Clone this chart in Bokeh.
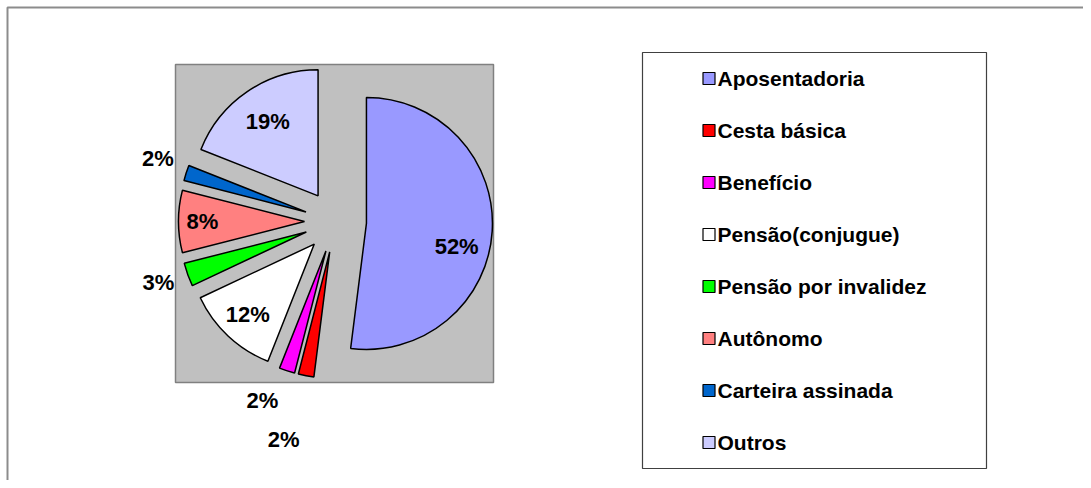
import numpy as np
from bokeh.plotting import figure
from bokeh.models import Range1d, ColumnDataSource
from bokeh.core.properties import value
from bokeh.embed import file_html
from bokeh.resources import INLINE

# ---- data ----
categories = ["Aposentadoria", "Cesta básica", "Benefício", "Pensão(conjugue)",
              "Pensão por invalidez", "Autônomo", "Carteira assinada", "Outros"]
percent = [52, 2, 2, 12, 3, 8, 2, 19]
colors = ["#9999FF", "#FF0000", "#FF00FF", "#FFFFFF",
          "#00FF00", "#FF8080", "#0066CC", "#CCCCFF"]
label_text = [f"{v}%" for v in percent]

# ---- layout (pixel coordinates, y downward) ----
W, H = 1083, 480
cx, cy = 335.0, 221.0        # pie centre
R = 126.0                    # pie radius
explode = 31.0               # explosion distance
label_r = [0.74, 1.53, 1.29, 0.77, 1.24, 0.81, 1.25, 0.71]   # label radius factors
label_dtheta = [11, 3, 5, 0, 1, 0, 2, 0]                      # label angle tweaks (deg)
legend_box = (642, 986, 52, 468)
legend_row0, legend_step = 78.0, 52.0
legend_sq_x, legend_txt_x = 708.5, 717.0
plot_area = (175, 493, 64, 382)

FONT = value("Liberation Sans")

p = figure(width=W, height=H, x_range=Range1d(0, W), y_range=Range1d(-H, 0),
           output_backend="svg", toolbar_location=None, min_border=0)
p.axis.visible = False
p.grid.visible = False
p.outline_line_color = None
p.background_fill_color = "white"
p.border_fill_color = "white"

# outer chart frame (extends off the page on the right/bottom)
p.quad(left=[7], right=[1300], top=[-7], bottom=[-800], fill_color=None,
       line_color="#8c8c8c", line_width=2)

# plot area
l, r, t, b = plot_area
p.quad(left=[l], right=[r], top=[-t], bottom=[-b], fill_color="#C0C0C0",
       line_color="#808080", line_width=1.5)

# pie wedges
vals = np.array(percent, dtype=float)
cum = np.cumsum(vals) / vals.sum() * 360.0
th1 = np.concatenate([[0.0], cum[:-1]])
th2 = cum
thm = (th1 + th2) / 2.0
rad = np.radians
wx = cx + explode * np.sin(rad(thm))
wy = -cy + explode * np.cos(rad(thm))
src = ColumnDataSource(dict(x=wx, y=wy, start=rad(90 - th2), end=rad(90 - th1),
                            color=colors))
p.wedge(x="x", y="y", radius=R, start_angle="start", end_angle="end",
        fill_color="color", line_color="black", line_width=1.5, source=src)

# percentage labels
lt = thm + np.array(label_dtheta)
lx = wx + R * np.array(label_r) * np.sin(rad(lt))
ly = wy + R * np.array(label_r) * np.cos(rad(lt))
p.text(x=lx, y=ly, text=label_text, text_align="center", text_baseline="middle",
       text_font=FONT, text_font_style="bold", text_font_size="22px", text_color="black")

# legend
bl, br, bt, bb = legend_box
p.quad(left=[bl], right=[br], top=[-bt], bottom=[-bb], fill_color="white",
       line_color="#404040", line_width=1.2)
ry = -(legend_row0 + legend_step * np.arange(len(categories)))
p.rect(x=[legend_sq_x] * len(categories), y=ry, width=12, height=12,
       fill_color=colors, line_color="black", line_width=1.2)
p.text(x=[legend_txt_x] * len(categories), y=ry, text=categories, text_align="left",
       text_baseline="middle", text_font=FONT, text_font_style="bold",
       text_font_size="21px", text_color="black")

open("out.html", "w").write(file_html(p, INLINE))
